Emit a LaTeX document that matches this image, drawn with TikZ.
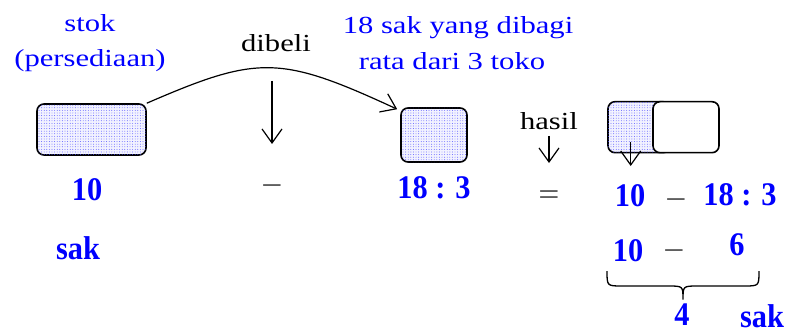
\documentclass[tikz,border=0pt]{standalone}
\usepackage{fontspec}
\usepackage{tikz}
\usetikzlibrary{arrows.meta,patterns.meta}
\setmainfont{Liberation Serif}
\newfontfamily\widefont{Liberation Serif}[FakeStretch=1.25]
\newfontfamily\narrowfont{Liberation Serif}[FakeStretch=0.92]
\definecolor{soalblue}{RGB}{0,0,255}

\begin{document}
\begin{tikzpicture}[
    x=1pt, y=-1pt,
    shadebox/.style={draw, line width=1.6pt, rounded corners=7pt, inner sep=0pt,
      fill=blue!5, postaction={pattern={Dots[distance=2.6pt, radius=0.45pt]}, pattern color=blue!70}},
    plainbox/.style={draw, line width=1.6pt, rounded corners=7pt, inner sep=0pt, fill=white},
    bluetxt/.style={font=\widefont\fontsize{24.5}{28}\selectfont, text=soalblue, inner sep=0pt, anchor=base},
    blacktxt/.style={font=\widefont\fontsize{24.5}{28}\selectfont, inner sep=0pt, anchor=base},
    numtxt/.style={font=\narrowfont\bfseries\fontsize{33}{36}\selectfont, text=soalblue, inner sep=0pt, anchor=base},
    optxt/.style={font=\widefont\fontsize{30}{32}\selectfont, text=black!80, inner sep=0pt},
    arr/.style={line width=1.2pt, -{Straight Barb[length=14pt, width=20pt, line width=1.2pt]}},
]
\useasboundingbox (0,0) rectangle (787,334);

% Boxes
\node[shadebox, minimum width=109pt, minimum height=51pt] (stok) at (91.5,129.5) {};
\node[shadebox, minimum width=66pt, minimum height=54pt] (bagi) at (434,135) {};
\node[shadebox, minimum width=62pt, minimum height=51pt] (sisa) at (639,127.2) {};
\node[plainbox, minimum width=66pt, minimum height=51pt] (kosong) at (686,127.2) {};

% Top labels
\node[bluetxt] (stoka) at (90,31.7) {stok};
\node[bluetxt] (stokb) at (90,66.7) {(persediaan)};
\node[blacktxt] (dibeli) at (276,52) {dibeli};
\node[bluetxt] (sakb) at (458,33.3) {18 sak yang dibagi};
\node[bluetxt] (rata) at (452,70) {rata dari 3 toko};
\node[blacktxt] (hasil) at (549,130) {hasil};

% Arrows
\coordinate (dbA) at (272,81);
\coordinate (dbB) at (272,144);
\coordinate (hsA) at (549,136);
\coordinate (hsB) at (549,163);
\coordinate (ssA) at (630.7,141.7);
\coordinate (ssB) at (630.7,166);
\draw[arr] (stok.north east) .. controls (258,55) and (280,55) .. ([xshift=-3pt, yshift=-2pt]bagi.north west);
\draw[arr] (dbA) -- (dbB);
\draw[arr] (hsA) -- (hsB);
\draw[arr] (ssA) -- (ssB);

% Numbers
\node[numtxt] (sepuluh) at (87,200.7) {10};
\node[numtxt] (sak) at (78,259.3) {sak};
\node[optxt] (kurang) at (272,190.5) {−};
\node[numtxt] (bagian) at (434,198.3) {18 : 3};
\node[optxt] (samadengan) at (549,197.5) {=};
\node[numtxt] (sepuluhA) at (630,206.7) {10};
\node[optxt] (kurangA) at (676,204) {−};
\node[numtxt] (bagianA) at (740,205) {18 : 3};
\node[numtxt] (sepuluhB) at (628,261.7) {10};
\node[optxt] (kurangB) at (674,255) {−};
\node[numtxt] (enam) at (737,255) {6};

% Brace
\draw[line width=1.3pt] (607,271) .. controls (607,286) .. (622,286) -- (668,286)
  .. controls (683,286) .. (683,299.5) .. controls (683,286) .. (698,286) -- (744,286)
  .. controls (759,286) .. (759,271);
\node[numtxt] (empat) at (682,325) {4};
\node[numtxt] (sakB) at (762,327.5) {sak};

\end{tikzpicture}
\end{document}
